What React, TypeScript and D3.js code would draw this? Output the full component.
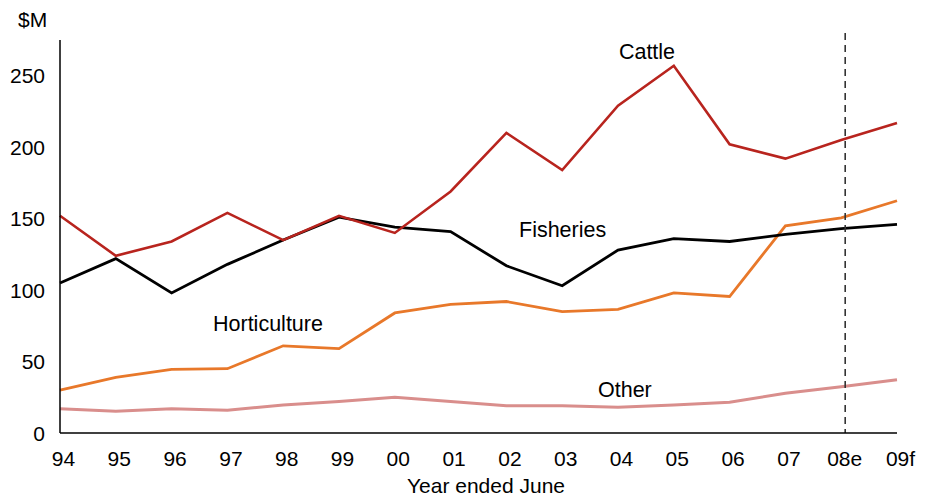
import React from "react";
import * as d3 from "d3";

const years = ["94", "95", "96", "97", "98", "99", "00", "01", "02", "03", "04", "05", "06", "07", "08e", "09f"];
const cattle = [152, 124, 134, 154, 135, 152, 140, 169, 210, 184, 229, 257, 202, 192, 205, 217];
const fisheries = [105, 122, 98, 118, 135, 151, 144, 141, 117, 103, 128, 136, 134, 139, 143, 146];
const horticulture = [30, 39, 44.5, 45, 61, 59, 84, 90, 92, 85, 86.5, 98, 95.5, 145, 150.5, 162.5];
const other = [17, 15.2, 17, 16, 19.6, 22, 25, 22, 19, 19, 18, 19.6, 21.5, 27.8, 32.4, 37.3];
const yTicks = [0, 50, 100, 150, 200, 250];

const W = 926;
const H = 501;
const font = "'Liberation Sans', Arial, sans-serif";

export default function App() {
  const x = d3.scalePoint<string>().domain(years).range([60, 897]);
  const y = d3.scaleLinear().domain([0, 275]).range([433, 40]);
  const line = d3
    .line<number>()
    .x((_, i) => x(years[i]) as number)
    .y((d) => y(d));

  const series = [
    { name: "Other", data: other, color: "#D98E8C", width: 3 },
    { name: "Horticulture", data: horticulture, color: "#E8782A", width: 2.8 },
    { name: "Fisheries", data: fisheries, color: "#000000", width: 2.8 },
    { name: "Cattle", data: cattle, color: "#B8241E", width: 2.6 },
  ];

  const x08 = (x("08e") as number) + 4;

  return (
    <svg
      width={W}
      height={H}
      style={{ position: "absolute", left: 0, top: 0, background: "#fff" }}
      fontFamily={font}
    >
      <rect width={W} height={H} fill="#fff" />
      {series.map((s) => (
        <path
          key={s.name}
          d={line(s.data) || ""}
          fill="none"
          stroke={s.color}
          strokeWidth={s.width}
          strokeLinejoin="miter"
        />
      ))}
      <line x1={x08} x2={x08} y1={33} y2={433} stroke="#333" strokeWidth={1.6} strokeDasharray="7,5" />
      <line x1={60} x2={60} y1={40} y2={433} stroke="#000" strokeWidth={1.5} />
      <line x1={60} x2={897} y1={433} y2={433} stroke="#000" strokeWidth={1.5} />
      {yTicks.map((t) => (
        <text key={t} x={45} y={y(t)} dy="0.36em" textAnchor="end" fontSize={21} fill="#000">
          {t}
        </text>
      ))}
      <text x={18} y={27} fontSize={21} fill="#000">$M</text>
      {years.map((yr) => (
        <text key={yr} x={(x(yr) as number) + 3.5} y={466} textAnchor="middle" fontSize={21} fill="#000">
          {yr}
        </text>
      ))}
      <text x={486} y={493} textAnchor="middle" fontSize={21} fill="#000">Year ended June</text>
      <text x={647} y={59} textAnchor="middle" fontSize={21.5} fill="#000">Cattle</text>
      <text x={519} y={237} fontSize={21.5} fill="#000">Fisheries</text>
      <text x={213} y={331} fontSize={21.5} fill="#000">Horticulture</text>
      <text x={598} y={397} fontSize={21.5} fill="#000">Other</text>
    </svg>
  );
}
